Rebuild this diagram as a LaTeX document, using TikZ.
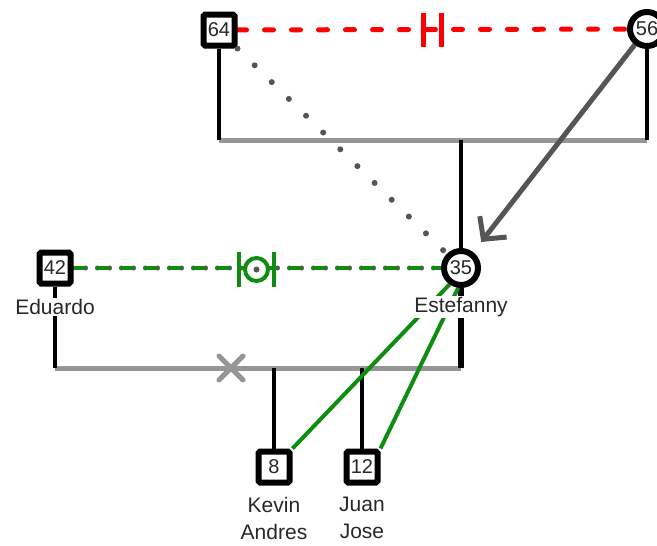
\documentclass[tikz,border=0pt]{standalone}
\usepackage{fontspec}
\setmainfont{Liberation Sans}
\usetikzlibrary{arrows.meta,backgrounds}

\definecolor{bondgreen}{RGB}{16,140,16}
\definecolor{lightline}{RGB}{150,150,150}
\definecolor{darkline}{RGB}{85,85,85}
\definecolor{inkgray}{RGB}{40,40,40}

\tikzset{
  person/.style={draw=black, fill=white, line width=6pt, inner sep=0pt,
    text=inkgray, font=\fontsize{20}{20}\selectfont},
  male/.style={person, rectangle, rounded corners=1.5pt, minimum size=31pt},
  female/.style={person, circle, minimum size=34pt},
  tag/.style={fill=white, inner sep=1pt, align=center, text=inkgray,
    font=\fontsize{21}{27}\selectfont},
  couple/.style={draw=lightline, line width=5pt},
  descent/.style={draw=black, line width=4.5pt},
  cutoff/.style={draw=red, line width=5pt, line cap=round,
    dash pattern=on 9pt off 18pt},
  bond/.style={draw=bondgreen, line width=4.5pt, line cap=round,
    dash pattern=on 10pt off 14pt},
  distant/.style={draw=darkline, line width=6pt, line cap=round,
    dash pattern=on 0pt off 24pt},
  pointer/.style={draw=darkline, line width=5pt,
    -{Straight Barb[length=16pt,width=34pt]}},
  closeness/.style={draw=bondgreen, line width=4pt}
}

\begin{document}
\begin{tikzpicture}[x=1pt, y=-1pt]

  \useasboundingbox (0,0) rectangle (657,546);

  \node (P64) [male] at (219,30) {64};
  \node (P56) [female] at (647,29) {56};
  \node (P42) [male] at (55,268) {42};
  \node (P35) [female] at (461,268) {35};
  \node (P8) [male] at (274,467) {8};
  \node (P12) [male] at (362,467) {12};

  \node (L42) [tag] at (55,307) {Eduardo};
  \node (L35) [tag] at (461,307) {Estefanny};
  \node (L8) [tag] at (274,518) {Kevin\\Andres};
  \node (L12) [tag] at (362,518) {Juan\\Jose};

  \coordinate (U64) at (219,140);
  \coordinate (U56) at (647,140);
  \coordinate (U35) at (461,140);
  \coordinate (D42) at (55,368);
  \coordinate (D35) at (461,368);
  \coordinate (D8) at (274,368);
  \coordinate (D12) at (362,368);

  \begin{pgfonlayer}{background}
    \draw[couple] (U64) -- (U56);
    \draw[descent] (P64) -- (U64);
    \draw[descent] (P56) -- (U56);
    \draw[descent] (U35) -- (P35);

    \draw[couple] (D42) -- (D35);
    \draw[descent] (P42) -- (D42);
    \draw[descent, line width=6pt] (P35) -- (D35);
    \draw[descent] (D8) -- (P8);
    \draw[descent] (D12) -- (P12);

    \draw[cutoff] (P64) -- (P56);
    \draw[distant, dash pattern=on 0pt off 12pt, line width=5pt] (P42) -- (P35);
    \draw[bond] (P42) -- (P35);
    \draw[distant] (P64.south east) -- (P35.north west);
    \draw[pointer, shorten >=13pt] (P56) -- (P35);

    \draw[closeness] (P35.235) -- (P8.north east);
    \draw[closeness] (P35.262) -- (P12.north east);
  \end{pgfonlayer}

  \draw[red, line width=5pt] (423,13) -- (423,47);
  \draw[red, line width=5pt] (441,13) -- (441,47);

  \draw[bondgreen, line width=4.5pt] (239,252) -- (239,287);
  \draw[bondgreen, line width=4.5pt] (274,252) -- (274,287);
  \draw[bondgreen, line width=4pt, fill=white] (256.5,269.5) circle (11.5);
  \fill[darkline] (256.5,269.5) circle (3);

  \draw[lightline, line width=5pt, line cap=round] (219,356) -- (243,380);
  \draw[lightline, line width=5pt, line cap=round] (219,380) -- (243,356);

\end{tikzpicture}
\end{document}
